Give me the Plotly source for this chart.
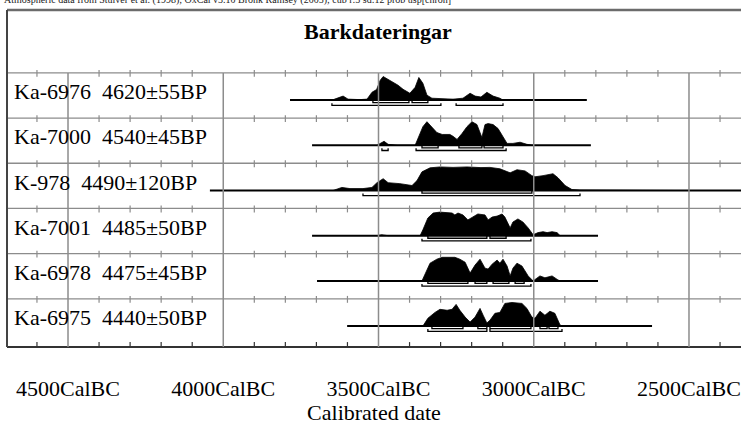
import plotly.graph_objects as go

# ---- samples -------------------------------------------------------------
lab_codes = ["Ka-6976", "Ka-7000", "K-978", "Ka-7001", "Ka-6978", "Ka-6975"]
bp_ages = ["4620±55BP", "4540±45BP", "4490±120BP", "4485±50BP", "4475±45BP", "4440±50BP"]

# calibrated probability distributions: calendar year BC / relative probability
ka6976_bc = [3650, 3630, 3614, 3598, 3560, 3537, 3527, 3521, 3506, 3495, 3485, 3470, 3453, 3437,
             3421, 3399, 3382, 3370, 3357, 3344, 3328, 3300, 3260, 3228, 3205, 3189, 3170, 3151,
             3131, 3109, 3099]
ka6976_p = [0, .08, .17, .04, .02, .04, .25, .33, .45, .83, 1.0, .88, .75, .63,
            .46, .29, .54, .96, .71, .21, .08, .06, .04, .08, .29, .17, .13, .33,
            .17, .08, 0]

ka7000_bc = [3505, 3495, 3482, 3469, 3440, 3382, 3366, 3357, 3344, 3328, 3312, 3295, 3270, 3260,
             3247, 3231, 3215, 3199, 3183, 3167, 3157, 3147, 3131, 3115, 3099, 3086, 3067, 3044,
             3022, 3002]
ka7000_p = [0, .08, .17, .04, 0, 0, .46, .79, 1.0, .79, .54, .46, .46, .38,
            .25, .5, .79, 1.0, .88, .33, .88, .92, .88, .71, .33, .08, .08, .13,
            .04, 0]

k978_bc = [3646, 3618, 3592, 3550, 3521, 3505, 3485, 3469, 3431, 3392, 3376, 3360, 3334, 3302,
           3260, 3215, 3170, 3141, 3109, 3076, 3054, 3028, 3006, 2996, 2970, 2938, 2922, 2899,
           2877, 2851, 2700, 2550]
k978_p = [0, .13, .08, .08, .13, .33, .5, .33, .29, .21, .42, .79, .96, 1.0,
          .98, 1.0, .97, .98, .92, .75, .88, .83, .63, .58, .63, .71, .54, .21,
          .04, .02, .01, 0]

ka7001_bc = [3505, 3490, 3469, 3366, 3357, 3341, 3324, 3302, 3263, 3254, 3244, 3228, 3212, 3196,
             3180, 3157, 3147, 3134, 3118, 3102, 3093, 3076, 3067, 3051, 3035, 3018, 3002, 2986,
             2970, 2957, 2941, 2925, 2915]
ka7001_p = [0, .04, 0, 0, .25, .75, .96, 1.0, .96, .88, .96, .88, .67, .79,
            .92, .88, .67, .79, .83, .92, .79, .33, .58, .71, .58, .33, .04, .13,
            .17, .13, .17, .13, 0]

ka6978_bc = [3360, 3350, 3334, 3312, 3295, 3254, 3238, 3221, 3205, 3189, 3173, 3157, 3147, 3134,
             3118, 3109, 3099, 3086, 3076, 3067, 3054, 3038, 3018, 3002, 2980, 2964, 2941, 2922,
             2915]
ka6978_p = [0, .29, .75, .92, 1.0, 1.0, .92, .79, .33, .67, .92, .54, .5, .71,
            .88, .75, .92, .63, .21, .54, .75, .63, .21, 0, .21, .13, .21, .04,
            0]

ka6975_bc = [3357, 3341, 3318, 3302, 3279, 3263, 3250, 3238, 3221, 3205, 3189, 3173, 3163, 3151,
             3141, 3125, 3109, 3093, 3070, 3038, 3022, 3006, 2996, 2980, 2964, 2948, 2932, 2915,
             2906]
ka6975_p = [0, .33, .58, .71, .67, .71, .92, .67, .38, .17, .38, .75, .46, .13,
            .25, .54, .58, .96, 1.0, .96, .75, .38, .33, .63, .46, .63, .54, .04,
            0]

# extent of each plotted curve (BC)
curve_spans = [(3785, 2829), (3714, 2816), (4043, 2000), (3714, 2793), (3698, 2793), (3601, 2619)]

# highest probability ranges (BC)
ranges_68 = [
    [(3518, 3402), (3392, 3341)],
    [(3360, 3308), (3241, 3167), (3160, 3099)],
    [(3360, 3006)],
    [(3341, 3151), (3141, 3089)],
    [(3341, 3212), (3189, 3151), (3131, 3080), (3060, 3031)],
    [(3328, 3228), (3180, 3151), (3141, 3009), (2980, 2957), (2951, 2922)],
]
ranges_95 = [
    [(3650, 3299), (3250, 3099)],
    [(3489, 3469), (3379, 3089)],
    [(3550, 2851)],
    [(3360, 3009)],
    [(3360, 3009)],
    [(3341, 3151), (3141, 2909)],
]

dist_bc = [ka6976_bc, ka7000_bc, k978_bc, ka7001_bc, ka6978_bc, ka6975_bc]
dist_p = [ka6976_p, ka7000_p, k978_p, ka7001_p, ka6978_p, ka6975_p]

# axis ticks (BC)
major_years = [4500, 4000, 3500, 3000, 2500]
major_labels = ["4500CalBC", "4000CalBC", "3500CalBC", "3000CalBC", "2500CalBC"]
minor_step = 100

# ---- layout geometry -----------------------------------------------------
W, H = 741, 425
ML, MR, MT, MB = 7, 0, 10, 72
PH = H - MT - MB                      # plot height in px
X_RANGE = [4696.5, 2332.5]            # reversed: older years to the left
ROW_TOP0, ROW_H = 74, 46              # px from top of the page
BASE_OFF, PEAK_PX = 27.7, 24.0        # baseline offset within a row, peak height
Y68, Y95, END_TICK = -2.6 / PEAK_PX, -5.3 / PEAK_PX, 2.2 / PEAK_PX
LABEL_RISE = 8.5                      # label centre above the baseline, px
FONT = "Liberation Serif, Times New Roman, serif"
GRID = "#8c8c8c"


def paper_y(px):
    return (H - MB - px) / PH


fig = go.Figure()
layout_axes = {}
annotations = []

for i in range(len(lab_codes)):
    n = i + 1
    yname = "y" if n == 1 else f"y{n}"
    axkey = "yaxis" if n == 1 else f"yaxis{n}"
    top = ROW_TOP0 + ROW_H * i
    layout_axes[axkey] = dict(
        domain=[paper_y(top + ROW_H), paper_y(top)],
        range=[-(ROW_H - BASE_OFF) / PEAK_PX, BASE_OFF / PEAK_PX],
        visible=False, fixedrange=True,
    )

    # baseline of the curve
    a, b = curve_spans[i]
    fig.add_trace(go.Scatter(x=[a, b], y=[0, 0], mode="lines", yaxis=yname,
                             line=dict(color="black", width=2), hoverinfo="skip"))
    # filled probability curve
    fig.add_trace(go.Scatter(x=dist_bc[i], y=dist_p[i], mode="lines", yaxis=yname,
                             fill="tozeroy", fillcolor="black",
                             line=dict(color="black", width=0.8), hoverinfo="skip"))
    # range brackets
    for rngs, lvl in ((ranges_68[i], Y68), (ranges_95[i], Y95)):
        bx, by = [], []
        for s, e in rngs:
            bx += [s, s, e, e, None]
            by += [lvl + END_TICK, lvl, lvl, lvl + END_TICK, None]
        fig.add_trace(go.Scatter(x=bx, y=by, mode="lines", yaxis=yname,
                                 line=dict(color="black", width=1.3), hoverinfo="skip"))

    annotations.append(dict(
        text=f"{lab_codes[i]}\u00a0\u00a0{bp_ages[i]}", xref="paper", yref=yname,
        x=(12 - ML) / (W - ML - MR), y=LABEL_RISE / PEAK_PX,
        xanchor="left", yanchor="middle", showarrow=False,
        font=dict(family=FONT, size=22, color="black")))

# ---- frame, separators, grid and ticks ----------------------------------
shapes = []
row_area_top = paper_y(ROW_TOP0)
for yr in major_years:
    shapes.append(dict(type="line", xref="x", yref="paper", x0=yr, x1=yr,
                       y0=0, y1=row_area_top, line=dict(color=GRID, width=1.5)))

sep_px = [ROW_TOP0 + ROW_H * k for k in range(len(lab_codes))]
for px in sep_px:
    shapes.append(dict(type="line", xref="paper", yref="paper", x0=0, x1=1,
                       y0=paper_y(px), y1=paper_y(px), line=dict(color=GRID, width=1.3)))

minor_years = [yr for yr in range(4600, 2300, -minor_step) if yr not in major_years]
for yr in minor_years:
    for px in sep_px:
        shapes.append(dict(type="line", xref="x", yref="paper", x0=yr, x1=yr,
                           y0=paper_y(px + 4), y1=paper_y(px - 3),
                           line=dict(color=GRID, width=1.2)))
    shapes.append(dict(type="line", xref="x", yref="paper", x0=yr, x1=yr,
                       y0=0, y1=paper_y(H - MB - 5), line=dict(color="#333333", width=1.2)))

# outer frame (top and left)
shapes.append(dict(type="line", xref="paper", yref="paper", x0=0, x1=1, y0=1, y1=1,
                   line=dict(color="#6b6b6b", width=2.5)))
shapes.append(dict(type="line", xref="paper", yref="paper", x0=0, x1=0, y0=0, y1=1,
                   line=dict(color="#444444", width=2)))

annotations.append(dict(
    text="<b>Barkdateringar</b>", xref="paper", yref="paper",
    x=(378 - ML) / (W - ML - MR), y=paper_y(32), xanchor="center", yanchor="middle",
    showarrow=False, font=dict(family=FONT, size=22, color="black")))

annotations.append(dict(
    text="Atmospheric data from Stuiver et al. (1998); OxCal v3.10 Bronk Ramsey (2005); "
         "cub r:5 sd:12 prob usp[chron]",
    xref="paper", yref="paper", x=(2 - ML) / (W - ML - MR), y=paper_y(0),
    xanchor="left", yanchor="middle", showarrow=False,
    font=dict(family=FONT, size=10, color="#222222")))

fig.update_layout(
    width=W, height=H,
    margin=dict(l=ML, r=MR, t=MT, b=MB, pad=0),
    paper_bgcolor="white", plot_bgcolor="white",
    showlegend=False,
    xaxis=dict(range=X_RANGE, anchor="free", position=0,
               tickmode="array", tickvals=major_years, ticktext=major_labels,
               ticks="", showgrid=False, zeroline=False,
               showline=True, linecolor="#333333", linewidth=1.5,
               tickfont=dict(family=FONT, size=22, color="black"),
               ticklabelstandoff=22,
               title=dict(text="Calibrated date", standoff=8,
                          font=dict(family=FONT, size=22, color="black")),
               fixedrange=True),
    shapes=shapes,
    annotations=annotations,
    **layout_axes,
)

fig.write_html("out.html")
